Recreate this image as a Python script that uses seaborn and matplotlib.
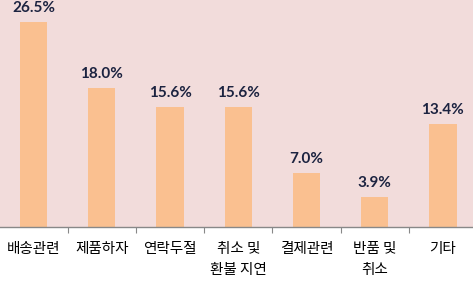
import matplotlib
matplotlib.use("Agg")
import matplotlib.pyplot as plt
import seaborn as sns
import pandas as pd

categories = ["배송관련", "제품하자", "연락두절", "취소 및\n환불 지연", "결제관련", "반품 및\n취소", "기타"]
values = [26.5, 18.0, 15.6, 15.6, 7.0, 3.9, 13.4]

sns.set_theme(style="white")
plt.rcParams['font.family'] = ['Noto Sans CJK KR', 'DejaVu Sans']

df = pd.DataFrame({"category": categories, "value": values})

fig = plt.figure(figsize=(4.73, 2.83), dpi=100)
fig.patch.set_facecolor("white")
ax = fig.add_axes([-0.5 / 473, 56 / 283, 477.5 / 473, 227 / 283])
ax.set_facecolor("#F2DCDB")

sns.barplot(data=df, x="category", y="value", color="#FAC090", width=0.4,
            saturation=1, linewidth=0, edgecolor="none", ax=ax)

ax.set_xlim(-0.5, len(categories) - 0.5)
ax.set_ylim(0, 29.4)
ax.set_xlabel("")
ax.set_ylabel("")
ax.set_yticks([])

for i, v in enumerate(values):
    ax.annotate(f"{v:.1f}%", (i, v), xytext=(0, 5), textcoords="offset points",
                ha="center", va="bottom", fontsize=11, fontweight="bold",
                color="#1C2340", family=["Lato", "DejaVu Sans"])

ax.set_xticks(range(len(categories)))
ax.set_xticklabels(categories, fontsize=10.5, color="black", linespacing=1.6,
                   fontweight="medium")
ax.tick_params(axis="x", which="major", length=0, pad=11)
ax.set_xticks([i + 0.5 for i in range(len(categories) - 1)], minor=True)
ax.tick_params(axis="x", which="minor", length=4, color="#888888", width=0.8, direction="out", bottom=True)

for s in ["top", "left", "right"]:
    ax.spines[s].set_visible(False)
ax.spines["bottom"].set_color("#888888")
ax.spines["bottom"].set_linewidth(1.0)

fig.savefig("out.png", dpi=100, facecolor="white")
